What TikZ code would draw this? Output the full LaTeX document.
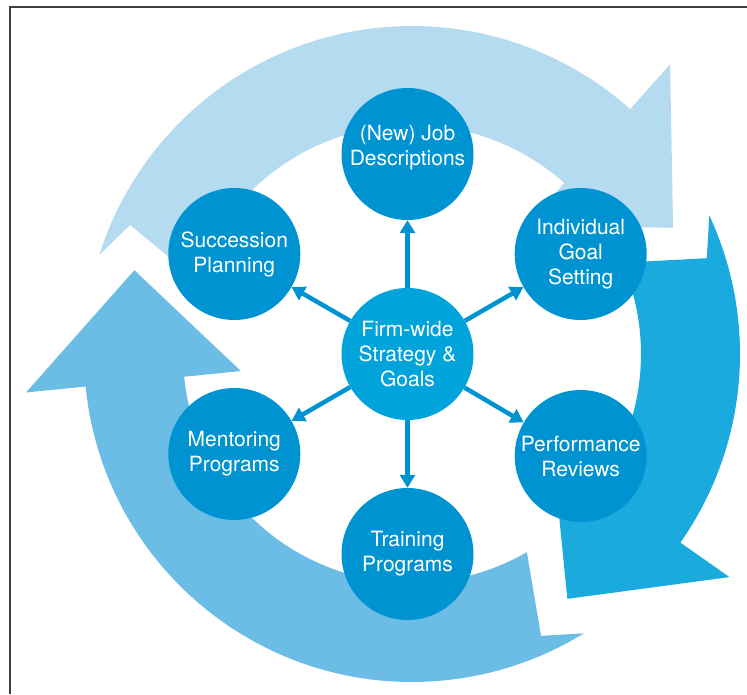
\documentclass[tikz,border=0pt]{standalone}
\usepackage{fontspec}
\setmainfont{TeX Gyre Heros}
\usetikzlibrary{
  arrows.meta,
  positioning
}
\definecolor{arcLight}{RGB}{181,219,240}
\definecolor{arcDark}{RGB}{27,170,221}
\definecolor{arcMid}{RGB}{108,189,229}
\definecolor{satBlue}{RGB}{0,147,209}
\definecolor{hubBlue}{RGB}{0,163,218}
\tikzset{
  hub node/.style={
    circle, fill=hubBlue, text=white,
    minimum size=132pt, inner sep=0pt,
    align=center,
    font=\fontsize{21pt}{25pt}\selectfont
  },
  sat node/.style={
    hub node, fill=satBlue
  },
  spoke arrow/.style={
    -{Triangle[length=13pt,width=15pt]}, line width=4.5pt, draw=satBlue
  },
}

\begin{document}
\begin{tikzpicture}[x=1pt, y=1pt]
  \useasboundingbox (0,0) rectangle (747,694);

  % Frame
  \draw[line width=1.3pt, black!75] (10,0) -- (10,687) -- (747,687);

  % Cycle arcs
  \begin{scope}[shift={(412,340)}]
    \fill[arcLight] (162.4:328) -- (155.4:310) -- (160.9:229)
      arc[start angle=160.9, end angle=48.3, radius=229]
      -- (48.3:172) -- (25.8:290) -- (48.3:388) -- (48.3:328)
      arc[start angle=48.3, end angle=162.4, radius=328] -- cycle;
    \fill[arcDark] (25:328) -- (18:310) -- (23.5:229)
      arc[start angle=23.5, end angle=-35.1, radius=229]
      -- (-35.1:172) -- (-57.6:290) -- (-35.1:388) -- (-35.1:328)
      arc[start angle=-35.1, end angle=25, radius=328] -- cycle;
    \fill[arcMid] (-58.4:328) -- (-65.4:310) -- (-59.9:229)
      arc[start angle=-59.9, end angle=-174.3, radius=229]
      -- (-174.3:172) -- (-196.8:290) -- (-174.3:388) -- (-174.3:328)
      arc[start angle=-174.3, end angle=-58.4, radius=328] -- cycle;
  \end{scope}

  % Hub and satellites
  \node[hub node] (hub) at (407.5,340) {Firm-wide\\Strategy \&\\Goals};
  \node[sat node] (jobs) at (407.5,540) {(New) Job\\Descriptions\rule[-18pt]{0pt}{0pt}};
  \node[sat node] (goal) at (580.7,440) {Individual\\Goal\\Setting};
  \node[sat node] (perf) at (580.7,238) {Performance\\Reviews};
  \node[sat node] (train) at (407.5,140) {Training\\Programs};
  \node[sat node] (mentor) at (234.3,240) {Mentoring\\Programs};
  \node[sat node] (succ) at (234.3,440) {Succession\\Planning};

  % Spokes
  \foreach \s in {jobs, goal, perf, train, mentor, succ}
    \draw[spoke arrow] (hub) -- (\s);

\end{tikzpicture}
\end{document}
